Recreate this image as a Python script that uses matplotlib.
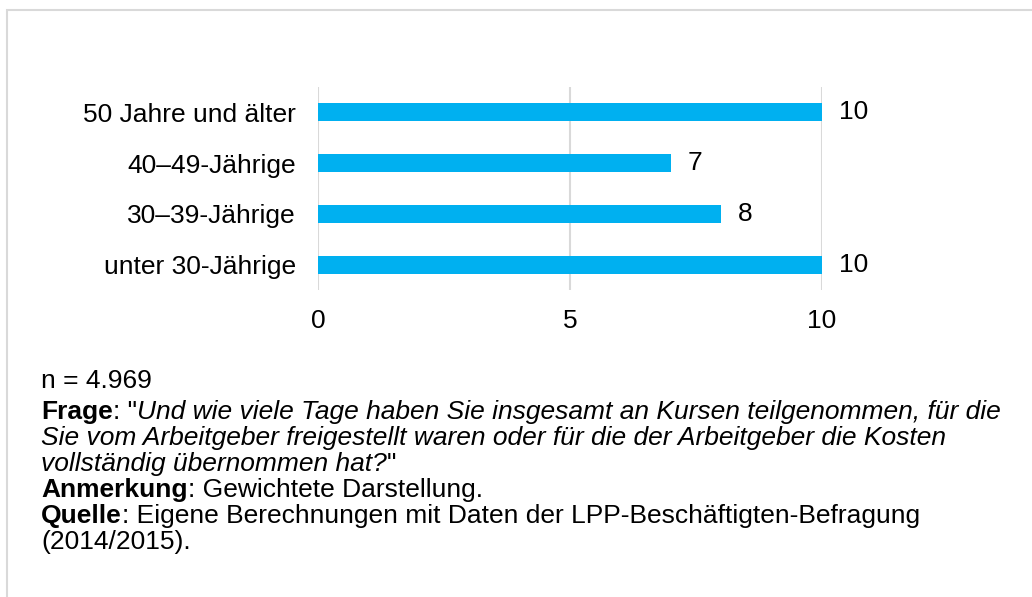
import matplotlib
matplotlib.use("Agg")
import matplotlib.pyplot as plt
from matplotlib.patches import Rectangle

plt.rcParams['font.family'] = ['Liberation Sans', 'DejaVu Sans']

categories = ["unter 30-Jährige", "30–39-Jährige", "40–49-Jährige", "50 Jahre und älter"]
values = [10, 8, 7, 10]
xticks = [0, 5, 10]

# footnote lines: list of (text, style) runs
notes = [
    [("n = 4.969", "normal")],
    [("Frage", "bold"), (": \"", "normal"),
     ("Und wie viele Tage haben Sie insgesamt an Kursen teilgenommen, für die", "italic")],
    [("Sie vom Arbeitgeber freigestellt waren oder für die der Arbeitgeber die Kosten", "italic")],
    [("vollständig übernommen hat?", "italic"), ("\"", "normal")],
    [("Anmerkung", "bold"), (": Gewichtete Darstellung.", "normal")],
    [("Quelle", "bold"), (": Eigene Berechnungen mit Daten der LPP-Beschäftigten-Befragung", "normal")],
    [("(2014/2015).", "normal")],
]
note_y = [381, 412, 438, 464, 490, 516, 542]

FS = 19
W, H = 1032, 597
fig = plt.figure(figsize=(W / 100, H / 100), dpi=100)
fig.patch.set_facecolor("white")

# light frame (top and left visible)
fig.patches.append(Rectangle((6.5 / W, -0.1), 1.2, 1 - 9.5 / H + 0.1, transform=fig.transFigure,
                             fill=False, edgecolor="#D9D9D9", linewidth=1.5))

ax = fig.add_axes([318 / W, 1 - 290 / H, 504 / W, 203 / H])
bars = ax.barh(range(len(categories)), values, height=0.35, color="#00B0F0", zorder=3)
ax.set_xlim(0, 10)
ax.set_ylim(-0.5, len(categories) - 0.5)
ax.set_yticks(range(len(categories)))
ax.set_yticklabels(categories, fontsize=FS)
ax.set_xticks(xticks)
ax.set_xticklabels([str(t) for t in xticks], fontsize=FS)
ax.tick_params(axis="y", length=0, pad=16)
ax.tick_params(axis="x", length=0, pad=14)
for s in ax.spines.values():
    s.set_visible(False)
ax.grid(axis="x", color="#D9D9D9", linewidth=1.5, zorder=0)
ax.bar_label(bars, labels=[str(v) for v in values], padding=12, fontsize=FS)

fig.canvas.draw()
renderer = fig.canvas.get_renderer()
for line, y in zip(notes, note_y):
    x = 41
    for txt, style in line:
        kw = {"fontsize": FS, "va": "center", "ha": "left"}
        if style == "bold":
            kw["fontweight"] = "bold"
        elif style == "italic":
            kw["fontstyle"] = "italic"
        t = fig.text(x / W, 1 - y / H, txt, **kw)
        bb = t.get_window_extent(renderer)
        x += bb.width

fig.savefig("out.png", dpi=100)
